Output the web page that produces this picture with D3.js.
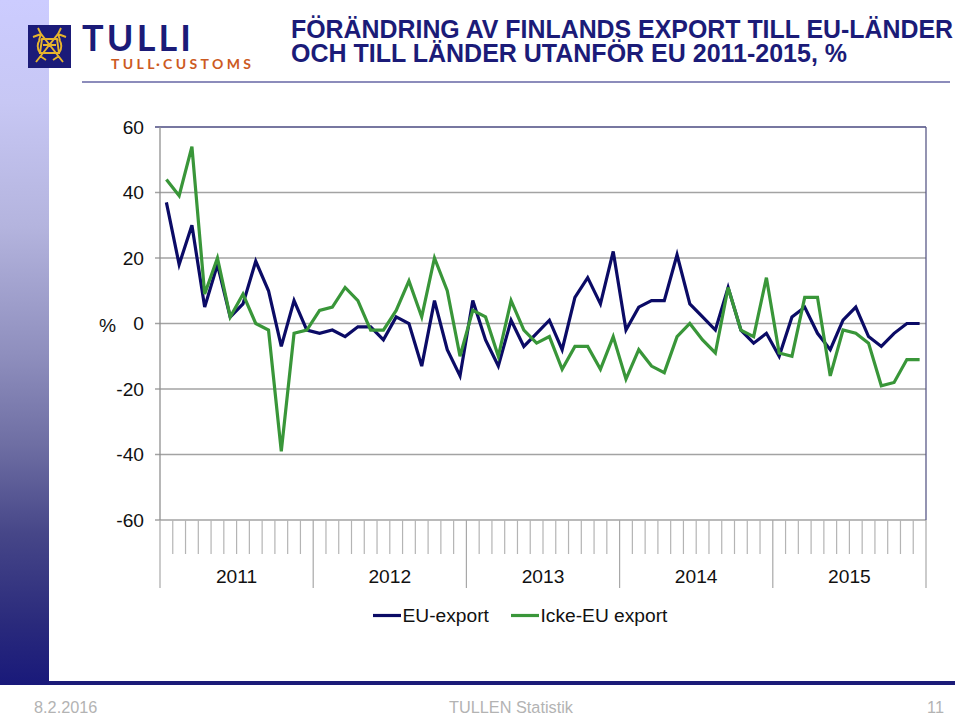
<!DOCTYPE html>
<html>
<head>
<meta charset="utf-8">
<script src="https://cdn.jsdelivr.net/npm/d3@7/dist/d3.min.js"></script>
<style>
  html, body { margin: 0; padding: 0; background: #fff; }
  svg { display: block; }
  text { font-family: "Liberation Sans", Arial, sans-serif; }
</style>
</head>
<body>
<svg width="959" height="714"></svg>
<script>
var years = ['2011', '2012', '2013', '2014', '2015'];
var yTicks = [60, 40, 20, 0, -20, -40, -60];
var euExport = [
  37, 18, 30, 5, 18, 2, 6, 19, 10, -7, 7, -2,
  -3, -2, -4, -1, -1, -5, 2, 0, -13, 7, -8, -16,
  7, -5, -13, 1, -7, -3, 1, -8, 8, 14, 6, 22,
  -2, 5, 7, 7, 21, 6, 2, -2, 11, -2, -6, -3,
  -10, 2, 5, -3, -8, 1, 5, -4, -7, -3, 0, 0
];
var nonEuExport = [
  44, 39, 54, 9, 20, 2, 9, 0, -2, -39, -3, -2,
  4, 5, 11, 7, -2, -2, 4, 13, 2, 20, 10, -10,
  4, 2, -10, 7, -2, -6, -4, -14, -7, -7, -14, -4,
  -17, -8, -13, -15, -4, 0, -5, -9, 11, -2, -4, 14,
  -9, -10, 8, 8, -16, -2, -3, -6, -19, -18, -11, -11
];
var titleLines = ['FÖRÄNDRING AV FINLANDS EXPORT TILL EU-LÄNDER', 'OCH TILL LÄNDER UTANFÖR EU 2011-2015, %'];

var navy = '#1b1b78';
var svg = d3.select('svg');

// slide furniture
var defs = svg.append('defs');
var grad = defs.append('linearGradient')
  .attr('id', 'side').attr('x1', 0).attr('y1', 0).attr('x2', 0).attr('y2', 1);
[['0%', '#ccccff'], ['15%', '#c7c7f4'], ['33%', '#b4b4de'], ['52%', '#8e8ebd'],
  ['65%', '#6e6ea3'], ['78%', '#464688'], ['91%', '#2a2a7c'], ['100%', '#19197a']]
  .forEach(function (s) {
    grad.append('stop').attr('offset', s[0]).attr('stop-color', s[1]);
  });

svg.append('rect').attr('x', 0).attr('y', 0).attr('width', 49).attr('height', 685).attr('fill', 'url(#side)');
svg.append('rect').attr('x', 49).attr('y', 681).attr('width', 906).attr('height', 4).attr('fill', navy);
svg.append('rect').attr('x', 82).attr('y', 81.5).attr('width', 868).attr('height', 1).attr('fill', navy);

// logo
var logo = svg.append('g').attr('transform', 'translate(28,25)');
logo.append('rect').attr('width', 43).attr('height', 43).attr('fill', '#1b1b78');
logo.append('path')
  .attr('d', 'M5,12 L13,9 L35,37 M38,12 L30,9 L8,37 M10,3 L13,9 L11,15 M33,3 L30,9 L32,15 ' +
    'M14,14 L29,14 L31,28 L12,28 Z M15,20 L28,20 M12,31 L18,35 M31,31 L25,35 ' +
    'M12,14 C9,19 9,24 12,28 M31,14 C34,19 34,24 31,28')
  .attr('fill', 'none')
  .attr('stroke', '#e6b42c')
  .attr('stroke-width', 1.9);
svg.append('text').attr('x', 82).attr('y', 51)
  .attr('textLength', 109).attr('lengthAdjust', 'spacing')
  .style('font-family', 'Lato, sans-serif')
  .style('font-size', '36px').style('font-weight', 'bold').attr('fill', navy)
  .text('TULLI');
svg.append('text').attr('x', 111).attr('y', 69)
  .attr('textLength', 140).attr('lengthAdjust', 'spacing')
  .style('font-family', 'Lato, sans-serif')
  .style('font-size', '14px').style('font-weight', 'bold').attr('fill', '#cc5a22')
  .text('TULL·CUSTOMS');

// title
svg.selectAll('.title').data(titleLines).enter()
  .append('text')
  .attr('class', 'title')
  .attr('x', 291)
  .attr('y', function (d, i) { return 38 + i * 24; })
  .attr('textLength', function (d, i) { return i === 0 ? 662 : 556; })
  .attr('lengthAdjust', 'spacingAndGlyphs')
  .style('font-size', '25px')
  .style('font-weight', 'bold')
  .attr('fill', navy)
  .text(function (d) { return d; });

// chart
var margin = {top: 127, left: 160, right: 33, bottom: 194};
var width = 959 - margin.left - margin.right;
var height = 714 - margin.top - margin.bottom;
var months = d3.range(euExport.length);

var x = d3.scaleBand().domain(months).range([0, width]);
var y = d3.scaleLinear().domain([-60, 60]).range([height, 0]);

var chart = svg.append('g')
  .attr('transform', 'translate(' + [margin.left, margin.top] + ')');

chart.selectAll('.grid').data(yTicks).enter()
  .append('line')
  .attr('class', 'grid')
  .attr('x1', -5)
  .attr('x2', width)
  .attr('y1', function (d) { return y(d); })
  .attr('y2', function (d) { return y(d); })
  .attr('stroke', function (d) { return d === 60 ? '#4a4a80' : '#a3a3a3'; })
  .attr('stroke-width', 1.3);

chart.append('line').attr('x1', 0).attr('x2', 0).attr('y1', 0).attr('y2', height)
  .attr('stroke', '#909090').attr('stroke-width', 1.3);
chart.append('line').attr('x1', width).attr('x2', width).attr('y1', 0).attr('y2', height)
  .attr('stroke', '#5a5a88').attr('stroke-width', 1.3);

chart.selectAll('.ylab').data(yTicks).enter()
  .append('text')
  .attr('class', 'ylab')
  .attr('x', -16)
  .attr('y', function (d) { return y(d); })
  .attr('dy', '0.36em')
  .attr('text-anchor', 'end')
  .style('font-size', '19.2px')
  .attr('fill', '#111')
  .text(function (d) { return d; });

chart.append('text')
  .attr('x', -44)
  .attr('y', y(0))
  .attr('dy', '0.42em')
  .attr('text-anchor', 'end')
  .style('font-size', '19.2px')
  .attr('fill', '#111')
  .text('%');

// month and year ticks below the plot
var monthEdges = d3.range(1, euExport.length).filter(function (i) { return i % 12 !== 0; });
chart.selectAll('.mtick').data(monthEdges).enter()
  .append('line')
  .attr('class', 'mtick')
  .attr('x1', function (d) { return x(d); })
  .attr('x2', function (d) { return x(d); })
  .attr('y1', height)
  .attr('y2', height + 34)
  .attr('stroke', '#b4b4b4')
  .attr('stroke-width', 1.2);

var yearEdges = d3.range(0, euExport.length + 1, 12);
chart.selectAll('.ytick').data(yearEdges).enter()
  .append('line')
  .attr('class', 'ytick')
  .attr('x1', function (d) { return d === euExport.length ? width : x(d); })
  .attr('x2', function (d) { return d === euExport.length ? width : x(d); })
  .attr('y1', height)
  .attr('y2', height + 68)
  .attr('stroke', '#a8a8a8')
  .attr('stroke-width', 1.2);

chart.selectAll('.year').data(years).enter()
  .append('text')
  .attr('class', 'year')
  .attr('x', function (d, i) { return x(i * 12) + x.bandwidth() * 6; })
  .attr('y', height + 63)
  .attr('text-anchor', 'middle')
  .style('font-size', '19.2px')
  .attr('fill', '#111')
  .text(function (d) { return d; });

var line = d3.line()
  .x(function (d, i) { return x(i) + x.bandwidth() / 2; })
  .y(function (d) { return y(d); });

[[euExport, '#0b0b66'], [nonEuExport, '#399639']].forEach(function (s) {
  chart.append('path')
    .attr('d', line(s[0]))
    .attr('fill', 'none')
    .attr('stroke', s[1])
    .attr('stroke-width', 3.2)
    .attr('stroke-linejoin', 'miter');
});

// legend
var legendItems = [
  {label: 'EU-export', color: '#0b0b66', x: 373},
  {label: 'Icke-EU export', color: '#399639', x: 511}
];
var legend = svg.selectAll('.legend').data(legendItems).enter()
  .append('g')
  .attr('class', 'legend')
  .attr('transform', function (d) { return 'translate(' + d.x + ',615.5)'; });
legend.append('line')
  .attr('x1', 0).attr('x2', 28).attr('y1', 0).attr('y2', 0)
  .attr('stroke', function (d) { return d.color; })
  .attr('stroke-width', 3.2);
legend.append('text')
  .attr('x', 29.5)
  .attr('y', 6.5)
  .style('font-size', '19.2px')
  .attr('fill', '#111')
  .text(function (d) { return d.label; });

// footer
var footer = [
  {t: '8.2.2016', x: 34, a: 'start'},
  {t: 'TULLEN Statistik', x: 511, a: 'middle'},
  {t: '11', x: 944, a: 'end'}
];
svg.selectAll('.foot').data(footer).enter()
  .append('text')
  .attr('class', 'foot')
  .attr('x', function (d) { return d.x; })
  .attr('y', 712.5)
  .attr('text-anchor', function (d) { return d.a; })
  .style('font-size', '16.3px')
  .attr('fill', '#b3b3b3')
  .text(function (d) { return d.t; });
</script>
</body>
</html>
